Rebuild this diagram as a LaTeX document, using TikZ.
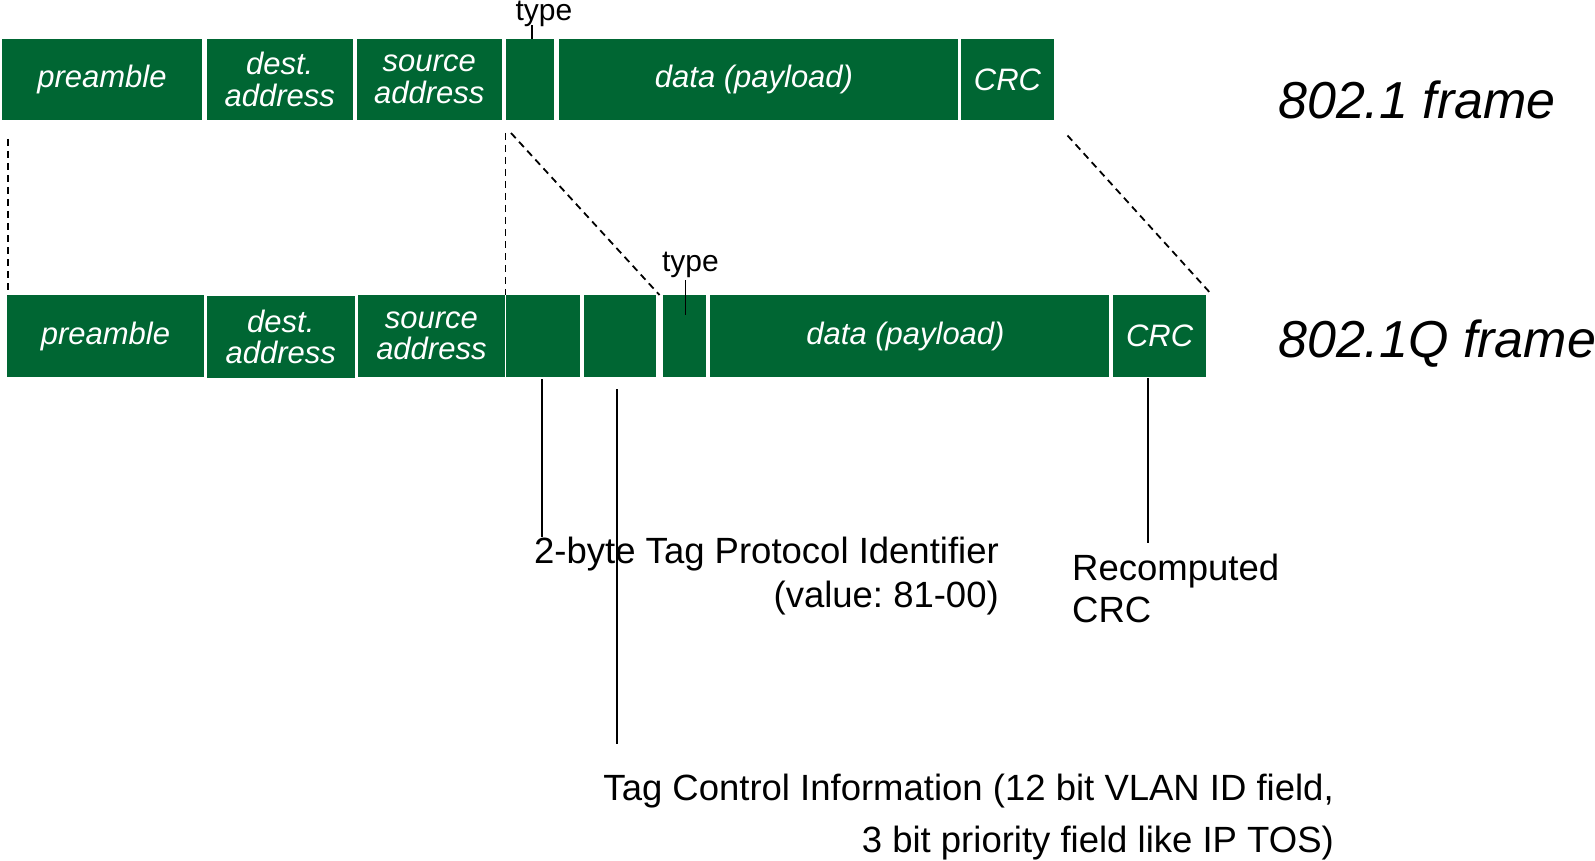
\documentclass[tikz,border=0pt]{standalone}
\usepackage{fontspec}
\setmainfont{Liberation Sans}
\usetikzlibrary{positioning,calc}
\frenchspacing

\begin{document}
\begin{tikzpicture}[x=1pt, y=-1pt,
        field/.style={fill=frmgreen, inner sep=0pt, outer sep=0pt, text=white, font=\fontsize{31}{31.5}\selectfont\itshape, align=center},
        guide/.style={draw=black, line width=1.8pt, dash pattern=on 7pt off 5pt},
        callout/.style={draw=black, line width=2pt},
        note/.style={inner sep=0pt, font=\fontsize{36.5}{44}\selectfont},
        framelabel/.style={inner sep=0pt, anchor=base west, font=\fontsize{52}{52}\selectfont\itshape}]
        \definecolor{frmgreen}{RGB}{0,102,51}

        \useasboundingbox (0,0) rectangle (1595,861);

        % 802.1 frame
        \node[field, minimum width=200pt, minimum height=81pt] (pre1) at (102,79.5) {preamble};
        \node[field, minimum width=146.5pt, minimum height=81pt] (dst1) at (279.75,79.5) {dest.\\address};
        \node[field, minimum width=144.5pt, minimum height=81pt] (src1) at (429.25,79.5) {source\\address};
        \node[field, minimum width=48.8pt, minimum height=81pt] (typ1) at (530,79.5) {};
        \node[field, minimum width=399pt, minimum height=81pt] (dat1) at (758,79.5) {data (payload)\hspace*{8pt}};
        \node[field, minimum width=92.5pt, minimum height=81pt] (crc1) at (1007.5,79.5) {CRC};

        % type label, old frame
        \node[inner sep=0pt, anchor=base, font=\fontsize{30}{30}\selectfont] (typlab1) at (544,21) {type};
        \draw[line width=1.5pt] (typ1.north) ++(2,0) -- ++(0,-14);

        \node[framelabel] (lab1) at (1278,119) {802.1 frame};

        % 802.1Q frame
        \node[field, minimum width=197pt, minimum height=82pt] (pre2) at (105.5,336) {preamble};
        \node[field, minimum width=148.4pt, minimum height=82pt] (dst2) at (280.8,337) {dest.\\address};
        \node[field, minimum width=147.3pt, minimum height=82pt] (src2) at (431.4,336) {source\\address};
        \node[field, minimum width=73.6pt, minimum height=82pt] (tpid) at (543.2,336) {};
        \node[field, minimum width=72.2pt, minimum height=82pt] (tci) at (619.7,336) {};
        \node[field, minimum width=43.8pt, minimum height=82pt] (typ2) at (684.4,336) {};
        \node[field, minimum width=399pt, minimum height=82pt] (dat2) at (909.5,336) {data (payload)\hspace*{8pt}};
        \node[field, minimum width=93.3pt, minimum height=82pt] (crc2) at (1159.6,336) {CRC};

        % type label, tagged frame
        \node[inner sep=0pt, anchor=base, font=\fontsize{30}{30}\selectfont] (typlab2) at (690.5,271) {type};
        \draw[line width=1.5pt] (typ2.north) ++(1,-15) -- ++(0,35);

        \node[framelabel] (lab2) at (1278,357) {802.1Q frame};

        % dashed guides between the two frames
        \coordinate (g1) at (8,139);
        \coordinate (g2) at (505.5,133);
        \coordinate (g3) at (511,133);
        \coordinate (g4) at (1067.5,135.5);
        \draw[guide] (g1) -- (g1 |- pre2.north);
        \draw[guide] (g2) -- (g2 |- src2.north);
        \draw[guide] (g3) -- ([xshift=-3pt]typ2.north west);
        \draw[guide] (g4) -- ([xshift=4pt,yshift=2pt]crc2.north east);

        % callouts (base anchor sits on the last line)
        \node[note, anchor=base east, align=right] (tpidlab) at (999,607) {2-byte Tag Protocol Identifier\\(value: 81-00)};
        \node[note, anchor=base west, align=left, font=\fontsize{36.5}{42}\selectfont] (crclab) at (1072,622) {Recomputed\\CRC};
        \node[note, anchor=base east, align=right, font=\fontsize{36.5}{52}\selectfont] (tcilab) at (1334,852) {Tag Control Information (12 bit VLAN ID field,\\3 bit priority field like IP TOS)};

        \coordinate (tpidend) at (541.5,537);
        \coordinate (tciend) at (616.5,744);
        \coordinate (crcend) at (1148,543);
        \draw[callout] (tpid.south -| tpidend) ++(0,2) -- (tpidend);
        \draw[callout] (tci.south -| tciend) ++(0,12) -- (tciend);
        \draw[callout] (crc2.south -| crcend) ++(0,1) -- (crcend);
    \end{tikzpicture}
\end{document}
